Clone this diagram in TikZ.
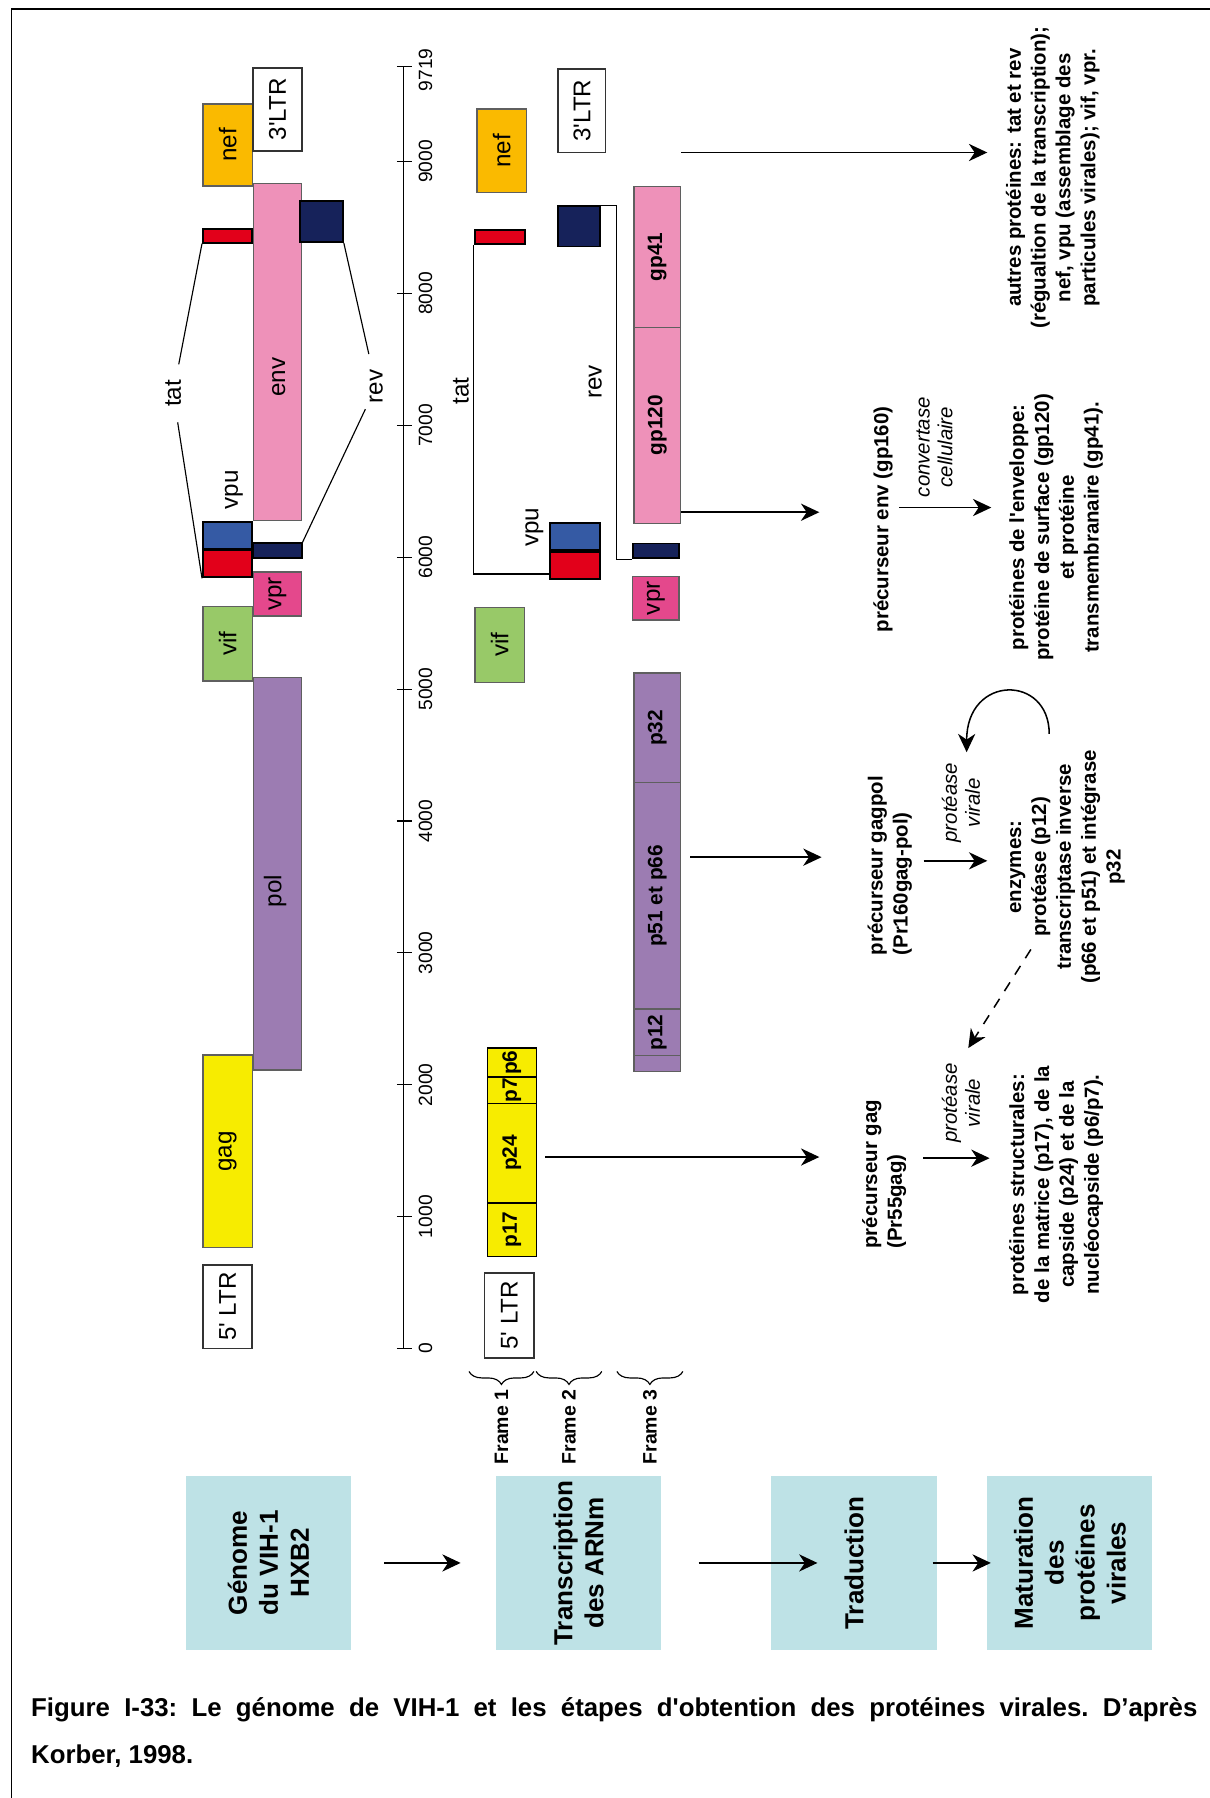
\documentclass[tikz,border=0pt]{standalone}
\usepackage{fontspec}
\setmainfont{Liberation Sans}[Ligatures=TeXOff]
\usetikzlibrary{arrows.meta,calc,decorations.pathreplacing}
\definecolor{gagYellow}{RGB}{247,236,0}
\definecolor{polPurple}{RGB}{156,124,178}
\definecolor{envPink}{RGB}{238,145,185}
\definecolor{vifGreen}{RGB}{152,201,104}
\definecolor{vprPink}{RGB}{228,72,140}
\definecolor{tatRed}{RGB}{226,0,26}
\definecolor{vpuBlue}{RGB}{53,90,164}
\definecolor{revNavy}{RGB}{22,34,90}
\definecolor{nefOrange}{RGB}{250,186,0}
\definecolor{stepBlue}{RGB}{190,226,230}
\definecolor{boxGray}{RGB}{95,95,95}

\begin{document}
\begin{tikzpicture}[x=0.3mm,y=-0.3mm,
  gene/.style={draw=boxGray,line width=0.4mm,rotate=90,inner sep=0pt,font=\fontsize{18}{20}\selectfont},
  dark/.style={gene,draw=black,line width=0.5mm},
  ltr/.style={gene,draw=black!80,fill=white,line width=0.5mm},
  prot/.style={gene,line width=0.35mm,font=\bfseries\fontsize{15.5}{17}\selectfont},
  gbox/.style 2 args={minimum width=#1*0.3mm,minimum height=#2*0.3mm},
  glabel/.style={rotate=90,inner sep=0.5mm,font=\fontsize{18}{20}\selectfont},
  tag/.style={glabel,inner xsep=4mm,inner ysep=1mm},
  ticklbl/.style={rotate=90,inner sep=0pt,font=\fontsize{14.3}{16}\selectfont},
  conn/.style={line width=0.3mm},
  arr/.style={-{Stealth[length=4.8mm,width=4.5mm,inset=1.5mm]},line width=0.4mm},
  info/.style={rotate=90,align=center,inner sep=1mm,font=\bfseries\fontsize{15.2}{18.5}\selectfont},
  note/.style={rotate=90,align=center,inner sep=1mm,font=\itshape\fontsize{15.2}{17}\selectfont},
  stepbox/.style={rotate=90,fill=stepBlue,minimum width=152*0.3mm,minimum height=144*0.3mm,inner sep=0pt,align=center,font=\bfseries\fontsize{19.4}{23}\selectfont},
  brc/.style={decorate,decoration={brace,amplitude=3.4mm},line width=0.3mm},
  frmlbl/.style={rotate=90,anchor=east,inner sep=0.5mm,font=\bfseries\fontsize{14.5}{16}\selectfont},
  caption/.style={anchor=base west,inner sep=0pt,font=\frenchspacing\bfseries\fontsize{19.2}{22}\selectfont}
]
  \useasboundingbox (0,0) rectangle (1055,1568);
  \draw[line width=0.5mm] (10,1600) -- (10,8) -- (1100,8);

  % genome HXB2, three frames
  \node[ltr,gbox={73}{43}] (ltr5a) at (198.5,1139.5) {5' LTR};
  \node[gene,fill=gagYellow,gbox={168}{43}] (gag) at (198.5,1004) {gag};
  \node[gene,fill=vifGreen,gbox={65}{43}] (vifa) at (198.5,561.5) {vif};
  \node[dark,fill=tatRed,gbox={24}{43}] (tat1a) at (198.5,491.5) {};
  \node[dark,fill=vpuBlue,gbox={23}{43}] (vpua) at (198.5,467) {};
  \node[dark,fill=tatRed,gbox={11.6}{43}] (tat2a) at (198.5,205.8) {};
  \node[gene,fill=nefOrange,gbox={71.3}{43}] (nefa) at (198.5,126.4) {nef};
  \node[gene,fill=polPurple,gbox={342}{42}] (pol) at (242,762) {};
  \node[gene,fill=vprPink,gbox={38}{42}] (vpra) at (242,518) {vpr};
  \node[dark,fill=revNavy,gbox={12.5}{42}] (rev1a) at (242,480) {};
  \node[gene,fill=envPink,gbox={294}{42}] (env) at (242,307) {};
  \node[ltr,gbox={72.6}{42}] (ltr3a) at (242,95.3) {3'LTR};
  \node[dark,fill=revNavy,gbox={35.5}{37}] (rev2a) at (280.5,193.3) {};
  \node[glabel] (envl) at (243,329) {env};
  \node[glabel] (poll) at (240,777) {pol};
  \node[glabel] (vpuA) at (204,427) {vpu};
  \node[tag] (tatA) at (151,343) {tat};
  \node[tag] (revA) at (328,337) {rev};
  \draw[conn] (tat2a.north west) -- (tatA);
  \draw[conn] (tatA) -- (tat1a.north west);
  \draw[conn] (rev2a.south west) -- (revA);
  \draw[conn] (revA) -- (rev1a.south east);

  % scale
  \coordinate (ax0) at (352,1176);
  \coordinate (axend) at (352,58.3);
  \draw[conn] (ax0) -- (axend);
  \foreach \n in {0,1000,...,9000} {
    \draw[conn] (346,{1176-0.115*\n}) -- (359,{1176-0.115*\n});
    \node[ticklbl] (tk\n) at (371,{1176-0.115*\n}) {\n};
  }
  \draw[conn] (346,58.3) -- (359,58.3);
  \node[ticklbl] (tk9719) at (371,61) {9719};

  % mRNA transcripts
  \node[ltr,gbox={73.8}{43.5}] (ltr5b) at (444.3,1147) {5' LTR};
  \node[prot,draw=black,fill=gagYellow,gbox={46.7}{42.6}] (p17) at (446.3,1072.4) {p17};
  \node[prot,draw=black,fill=gagYellow,gbox={87}{42.6}] (p24) at (446.3,1005.5) {p24};
  \node[prot,draw=black,fill=gagYellow,gbox={22.7}{42.6}] (p7) at (446.3,950.7) {p7};
  \node[prot,draw=black,fill=gagYellow,gbox={25.3}{42.6}] (p6) at (446.3,926.7) {p6};
  \node[gene,fill=vifGreen,gbox={65.2}{43.5}] (vifb) at (435.8,562.4) {vif};
  \node[dark,fill=tatRed,gbox={12.2}{43.5}] (tat2b) at (435.8,206.6) {};
  \node[gene,fill=nefOrange,gbox={72.7}{43}] (nefb) at (437.5,131.4) {nef};
  \node[dark,fill=vpuBlue,gbox={23.3}{43.4}] (vpub) at (501.7,468) {};
  \node[dark,fill=tatRed,gbox={23.8}{43.4}] (tat1b) at (501.7,492.9) {};
  \node[dark,fill=revNavy,gbox={35}{36}] (rev2b) at (505,197.5) {};
  \node[ltr,gbox={73}{41}] (ltr3b) at (507.5,96.5) {3'LTR};
  \node[prot,fill=envPink,gbox={122.7}{40.4}] (gp41) at (573.2,224) {gp41};
  \node[prot,fill=envPink,gbox={170.9}{40.4}] (gp120) at (573.2,370.9) {gp120};
  \node[dark,fill=revNavy,gbox={13}{40.3}] (rev1b) at (571.9,480.5) {};
  \node[gene,fill=vprPink,gbox={37.8}{40.3}] (vprb) at (571.9,521.7) {vpr};
  \node[prot,fill=polPurple,gbox={95.4}{40.4}] (p32) at (573.2,634.7) {p32};
  \node[prot,fill=polPurple,gbox={197.6}{40.4}] (p51) at (573.2,781.2) {p51 et p66};
  \node[prot,fill=polPurple,gbox={40.7}{40.4}] (p12) at (573.2,900.4) {p12};
  \node[prot,fill=polPurple,gbox={13.7}{40.4}] (pend) at (573.2,927.6) {};
  \node[glabel] (tatB) at (402,341) {tat};
  \node[glabel] (revB) at (519,333) {rev};
  \node[glabel] (vpuB) at (466,460) {vpu};
  \draw[conn] (tat2b.north west) |- ($(tat1b.north west)!0.2!(tat1b.north east)$);
  \draw[conn] (rev2b.south east) -- ++(14,0) |- (rev1b.north west);

  \foreach \a/\b/\i in {409/465.6/1,467.6/524.8/2,538/595.5/3} {
    \draw[brc] (\b,1196) -- (\a,1196);
    \node[frmlbl] (fr\i) at ({(\a+\b)/2},1210) {Frame \i};
  }

  % proteins
  \node[info] (autres) at (918,155) {autres protéines: tat et rev\\(régualtion de la transcription);\\nef, vpu (assemblage des\\particules virales); vif, vpr.};
  \node[info] (precenv) at (770,453) {précurseur env (gp160)};
  \node[note] (conv) at (815,390) {convertase\\cellulaire};
  \node[info] (protenv) at (921,460) {protéines de l'enveloppe:\\protéine de surface (gp120)\\et protéine\\transmembranaire (gp41).};
  \node[info,align=left] (precgp) at (776,755) {précurseur gagpol\\(Pr160gag-pol)};
  \node[note] (protv1) at (838,700) {protéase\\virale};
  \node[info] (enzymes) at (931,756) {enzymes:\\protéase (p12)\\transcriptase inverse\\(p66 et p51) et intégrase\\p32};
  \node[info,align=left] (precgag) at (771,1024) {précurseur gag\\(Pr55gag)};
  \node[note] (protv2) at (838,962) {protéase\\virale};
  \node[info] (struct) at (921,1033) {protéines structurales:\\de la matrice (p17), de la\\capside (p24) et de la\\nucléocapside (p6/p7).};

  \coordinate (tipA) at (861,133);
  \coordinate (tipB) at (714.5,446.7);
  \coordinate (tipC) at (716.5,747.5);
  \coordinate (tipD) at (714.5,1009);
  \draw[arr] (gp41.south east |- tipA) -- (tipA);
  \draw[arr] (gp120.south west |- tipB) -- (tipB);
  \draw[arr] ($(p51.south west |- tipC)+(8,0)$) -- (tipC);
  \draw[arr] ($(p24.south west |- tipD)+(7.5,0)$) -- (tipD);

  \coordinate (envA) at (784,442.6);
  \coordinate (envB) at (864.5,442.6);
  \coordinate (gpA) at (805.5,750.7);
  \coordinate (gpB) at (861,750.7);
  \coordinate (gagA) at (805,1010);
  \coordinate (gagB) at (863,1010);
  \draw[arr] (envA) -- (envB);
  \draw[arr] (gpA) -- (gpB);
  \draw[arr] (gagA) -- (gagB);
  \coordinate (cycA) at (915,640);
  \coordinate (cycB) at (843,656);
  \draw[arr] (cycA) .. controls (915,588) and (843,588) .. (cycB);
  \coordinate (dashA) at (899,828);
  \coordinate (dashB) at (844.4,914);
  \draw[arr,dash pattern=on 2.7mm off 2.4mm] (dashA) -- (dashB);

  % steps
  \node[stepbox] (genome) at (234,1363) {Génome\\du VIH-1\\HXB2};
  \node[stepbox] (transc) at (504.6,1363) {Transcription\\des ARNm};
  \node[stepbox] (trad) at (744.8,1363) {Traduction};
  \node[stepbox] (matur) at (933,1363) {Maturation\\des\\protéines\\virales};
  \draw[arr,shorten <=8.7mm,shorten >=9.2mm] (genome) -- (transc);
  \draw[arr,shorten <=9.7mm,shorten >=-12.1mm] (transc) -- (trad);
  \draw[arr,shorten <=-1.1mm,shorten >=-1mm] (trad) -- (matur);

  \node[caption] (cap1) at (27,1497) {\makebox[305.1mm][s]{Figure I-33: Le génome de VIH-1 et les étapes d'obtention des protéines virales. D’après}};
  \node[caption] (cap2) at (27,1538) {Korber, 1998.};
\end{tikzpicture}
\end{document}
